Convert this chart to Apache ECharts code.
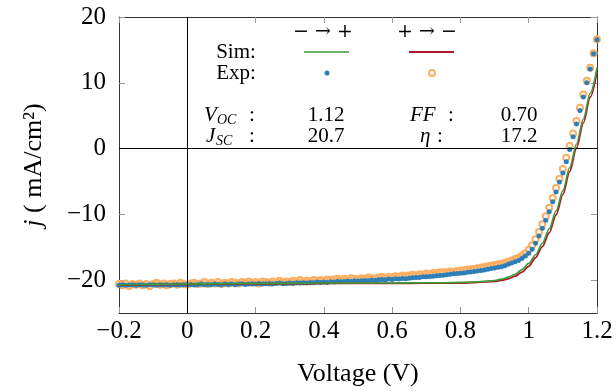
<!DOCTYPE html>
<html><head><meta charset="utf-8">
<script src="https://cdn.jsdelivr.net/npm/echarts@6/dist/echarts.min.js"></script>
<style>html,body{margin:0;padding:0;background:#fff}#c{width:616px;height:392px}</style>
</head><body><div id="c"></div>
<script>
const FONT = '"Liberation Serif", "DejaVu Serif", serif';
const SYMFONT = '"DejaVu Serif", serif';

const xTicks = [-0.2, 0, 0.2, 0.4, 0.6, 0.8, 1, 1.2];
const yTicks = [-20, -10, 0, 10, 20];

const expVoltage = [
-0.20,-0.19,-0.18,-0.17,-0.16,-0.15,-0.14,-0.13,-0.12,-0.11,
-0.10,-0.09,-0.08,-0.07,-0.06,-0.05,-0.04,-0.03,-0.02,-0.01,
0.00,0.01,0.02,0.03,0.04,0.05,0.06,0.07,0.08,0.09,
0.10,0.11,0.12,0.13,0.14,0.15,0.16,0.17,0.18,0.19,
0.20,0.21,0.22,0.23,0.24,0.25,0.26,0.27,0.28,0.29,
0.30,0.31,0.32,0.33,0.34,0.35,0.36,0.37,0.38,0.39,
0.40,0.41,0.42,0.43,0.44,0.45,0.46,0.47,0.48,0.49,
0.50,0.51,0.52,0.53,0.54,0.55,0.56,0.57,0.58,0.59,
0.60,0.61,0.62,0.63,0.64,0.65,0.66,0.67,0.68,0.69,
0.70,0.71,0.72,0.73,0.74,0.75,0.76,0.77,0.78,0.79,
0.80,0.81,0.82,0.83,0.84,0.85,0.86,0.87,0.88,0.89,
0.90,0.91,0.92,0.93,0.94,0.95,0.96,0.97,0.98,0.99,
1.00,1.01,1.02,1.03,1.04,1.05,1.06,1.07,1.08,1.09,
1.10,1.11,1.12,1.13,1.14,1.15,1.16,1.17,1.18,1.19,
1.20];

// Exp, sweep − → + (blue dots)
const expForward = [
-20.8,-20.7,-20.8,-20.75,-20.7,-20.8,-20.7,-20.75,-20.8,-20.7,
-20.7,-20.8,-20.7,-20.75,-20.7,-20.8,-20.7,-20.7,-20.75,-20.7,
-20.7,-20.65,-20.75,-20.7,-20.6,-20.7,-20.65,-20.7,-20.6,-20.65,
-20.7,-20.6,-20.65,-20.6,-20.7,-20.6,-20.55,-20.65,-20.6,-20.55,
-20.6,-20.5,-20.6,-20.55,-20.5,-20.6,-20.5,-20.45,-20.55,-20.5,
-20.45,-20.5,-20.4,-20.45,-20.4,-20.45,-20.35,-20.4,-20.3,-20.35,
-20.3,-20.35,-20.25,-20.3,-20.2,-20.25,-20.2,-20.15,-20.2,-20.1,
-20.15,-20.1,-20.05,-20.1,-20.0,-20.05,-19.95,-19.9,-19.95,-19.85,
-19.9,-19.8,-19.85,-19.75,-19.8,-19.7,-19.65,-19.6,-19.6,-19.5,
-19.5,-19.45,-19.4,-19.35,-19.3,-19.25,-19.2,-19.1,-19.05,-19.0,
-18.95,-18.9,-18.8,-18.75,-18.7,-18.6,-18.55,-18.45,-18.35,-18.25,
-18.15,-18.05,-17.95,-17.8,-17.6,-17.4,-17.2,-17.0,-16.7,-16.35,
-15.9,-15.3,-14.4,-13.3,-12.1,-10.9,-9.6,-8.1,-6.6,-5.1,
-3.7,-2.0,-0.15,1.8,3.75,5.8,7.85,10.0,12.1,14.4,
16.55];

// Exp, sweep + → − (orange rings)
const expReverse = [
-20.6,-20.8,-20.5,-20.9,-20.6,-20.7,-20.5,-20.8,-20.6,-20.9,
-20.6,-20.4,-20.7,-20.5,-20.8,-20.6,-20.5,-20.7,-20.4,-20.6,
-20.7,-20.5,-20.4,-20.6,-20.5,-20.3,-20.6,-20.4,-20.5,-20.3,
-20.6,-20.4,-20.5,-20.3,-20.4,-20.5,-20.3,-20.4,-20.2,-20.4,
-20.3,-20.5,-20.2,-20.3,-20.4,-20.2,-20.3,-20.1,-20.3,-20.2,
-20.3,-20.1,-20.2,-20.0,-20.2,-20.1,-20.2,-20.0,-20.1,-20.0,
-20.1,-19.9,-20.0,-19.9,-19.8,-20.0,-19.8,-19.9,-19.7,-19.8,
-19.9,-19.7,-19.8,-19.6,-19.7,-19.8,-19.6,-19.5,-19.7,-19.5,
-19.6,-19.4,-19.5,-19.3,-19.4,-19.3,-19.2,-19.3,-19.1,-19.2,
-19.0,-19.1,-18.9,-18.9,-18.8,-18.8,-18.8,-18.7,-18.75,-18.6,
-18.55,-18.5,-18.4,-18.35,-18.3,-18.2,-18.1,-18.0,-17.9,-17.8,
-17.7,-17.6,-17.5,-17.35,-17.2,-17.0,-16.8,-16.6,-16.3,-15.9,
-15.4,-14.7,-13.8,-12.7,-11.5,-10.3,-9.0,-7.5,-6.0,-4.6,
-3.1,-1.4,0.4,2.3,4.2,6.2,8.2,10.3,12.3,14.5,
16.6];

const simVoltage = [-0.2,-0.1,0,0.1,0.2,0.3,0.4,0.5,0.6,0.7,0.75,0.8,0.85,0.9,0.92,0.94,0.96,0.98,1.0,1.02,1.04,1.06,1.08,1.1,1.12,1.14,1.16,1.18,1.2];
// Sim, sweep − → + (green)
const simForward = [-20.7,-20.65,-20.6,-20.55,-20.5,-20.5,-20.45,-20.45,-20.45,-20.4,-20.4,-20.35,-20.25,-20.05,-19.85,-19.55,-19.1,-18.4,-17.45,-16.15,-14.4,-12.2,-9.5,-6.4,-2.9,0.7,4.5,8.4,12.3];
// Sim, sweep + → − (red)
const simReverse = [-20.75,-20.7,-20.65,-20.6,-20.55,-20.55,-20.5,-20.5,-20.5,-20.45,-20.45,-20.45,-20.35,-20.2,-20.05,-19.8,-19.4,-18.8,-17.9,-16.6,-14.9,-12.8,-10.1,-7.0,-3.5,0.1,3.9,7.8,11.7];

const sweepLabels = ['− → +', '+ → −'];
const rowLabels = ['Sim:', 'Exp:'];
const statVoc = '1.12', statFF = '0.70', statJsc = '20.7', statEta = '17.2';

const C_BLUE = '#2c7fb8', C_ORANGE = '#fdae61', C_GREEN = '#3a9e3a', C_RED = '#b2182b';

function pairs(xs, ys) { return xs.map((x, i) => [x, ys[i]]); }
function fmt(v) { const a = Math.round(Math.abs(v) * 10) / 10; return (v < -1e-9 ? '−' : '') + a; }

function txt(t, x, y, size, opts) {
  opts = opts || {};
  return { type: 'text', x: x, y: y, z: 100, silent: true,
    style: { text: t, fontFamily: opts.font || FONT, fontSize: size, fontStyle: opts.italic ? 'italic' : 'normal',
      fill: '#000', align: opts.align || 'center', textAlign: opts.align || 'center',
      verticalAlign: 'middle', textVerticalAlign: 'middle' } };
}

const chart = echarts.init(document.getElementById('c'), null, { renderer: 'canvas' });

const axisCommon = {
  type: 'value', splitLine: { show: false },
  axisLine: { show: true, onZero: false, lineStyle: { color: '#333', width: 1 } },
};

chart.setOption({
  animation: false,
  backgroundColor: '#fff',
  grid: { left: 119, right: 19, top: 17, bottom: 79 },
  xAxis: [
    Object.assign({}, axisCommon, {
      min: -0.2, max: 1.2, interval: 0.2, position: 'bottom',
      axisTick: { inside: true, length: 6, customValues: xTicks, lineStyle: { color: '#999' } },
      axisLabel: { customValues: xTicks, formatter: fmt, fontFamily: FONT, fontSize: 25, color: '#000', margin: 6 },
      name: 'Voltage (V)', nameLocation: 'middle', nameGap: 48,
      nameTextStyle: { fontFamily: FONT, fontSize: 26, color: '#000' }
    }),
    Object.assign({}, axisCommon, {
      min: -0.2, max: 1.2, interval: 0.2, position: 'top',
      axisTick: { inside: true, length: 6, customValues: xTicks, lineStyle: { color: '#999' } },
      axisLabel: { show: false }
    })
  ],
  yAxis: [
    Object.assign({}, axisCommon, {
      min: -25, max: 20, position: 'left',
      axisTick: { inside: true, length: 6, customValues: yTicks, lineStyle: { color: '#999' } },
      axisLabel: { customValues: yTicks, formatter: fmt, fontFamily: FONT, fontSize: 25, color: '#000', margin: 13 },
      name: '{i|j} ( mA/cm²)', nameLocation: 'middle', nameGap: 72, nameRotate: 90,
      nameTextStyle: { fontFamily: FONT, fontSize: 26, color: '#000',
        rich: { i: { fontFamily: FONT, fontSize: 26, fontStyle: 'italic', color: '#000' } } }
    }),
    Object.assign({}, axisCommon, {
      min: -25, max: 20, position: 'right',
      axisTick: { inside: true, length: 6, customValues: yTicks, lineStyle: { color: '#999' } },
      axisLabel: { show: false }
    })
  ],
  series: [
    { name: 'zero', type: 'line', data: [], z: 1, silent: true,
      markLine: { silent: true, symbol: 'none', label: { show: false },
        lineStyle: { color: '#000', width: 1, type: 'solid' },
        data: [{ xAxis: 0 }, { yAxis: 0 }] } },
    { name: 'Exp + → −', type: 'scatter', data: pairs(expVoltage, expReverse), z: 2,
      symbol: 'circle', symbolSize: 6,
      itemStyle: { color: 'rgba(255,255,255,0)', borderColor: C_ORANGE, borderWidth: 2, opacity: 1 } },
    { name: 'Exp − → +', type: 'scatter', data: pairs(expVoltage, expForward), z: 3,
      symbol: 'circle', symbolSize: 5, itemStyle: { color: C_BLUE, opacity: 1 } },
    { name: 'Sim + → −', type: 'line', data: pairs(simVoltage, simReverse), z: 4,
      showSymbol: false, smooth: 0.3, smoothMonotone: 'x',
      lineStyle: { color: C_RED, width: 1.8 } },
    { name: 'Sim − → +', type: 'line', data: pairs(simVoltage, simForward), z: 5,
      showSymbol: false, smooth: 0.3, smoothMonotone: 'x',
      lineStyle: { color: C_GREEN, width: 1.6 } }
  ],
  graphic: [
    txt(sweepLabels[0], 323, 32, 19, { font: SYMFONT }),
    txt(sweepLabels[1], 427, 32, 19, { font: SYMFONT }),
    txt(rowLabels[0], 236, 52, 21),
    txt(rowLabels[1], 236, 73, 21),
    { type: 'line', z: 100, silent: true, shape: { x1: 304, y1: 52, x2: 349, y2: 52 }, style: { stroke: C_GREEN, lineWidth: 1.6 } },
    { type: 'line', z: 100, silent: true, shape: { x1: 409, y1: 52, x2: 454, y2: 52 }, style: { stroke: C_RED, lineWidth: 1.8 } },
    { type: 'circle', z: 100, silent: true, shape: { cx: 327, cy: 73, r: 2.5 }, style: { fill: C_BLUE } },
    { type: 'circle', z: 100, silent: true, shape: { cx: 432, cy: 73, r: 3 }, style: { fill: 'none', stroke: C_ORANGE, lineWidth: 2 } },
    txt('V', 204, 115, 21, { italic: true, align: 'left' }),
    txt('OC', 217, 120, 14, { italic: true, align: 'left' }),
    txt(':', 252, 115, 21),
    txt(statVoc, 326, 115, 21),
    txt('FF', 410, 115, 21, { italic: true, align: 'left' }),
    txt(':', 451, 115, 21),
    txt(statFF, 519, 115, 21),
    txt('J', 206, 136, 21, { italic: true, align: 'left' }),
    txt('SC', 216, 141, 14, { italic: true, align: 'left' }),
    txt(':', 252, 136, 21),
    txt(statJsc, 326, 136, 21),
    txt('η', 420, 136, 21, { italic: true, align: 'left' }),
    txt(':', 440, 136, 21),
    txt(statEta, 519, 136, 21)
  ]
});
</script>
</body></html>
